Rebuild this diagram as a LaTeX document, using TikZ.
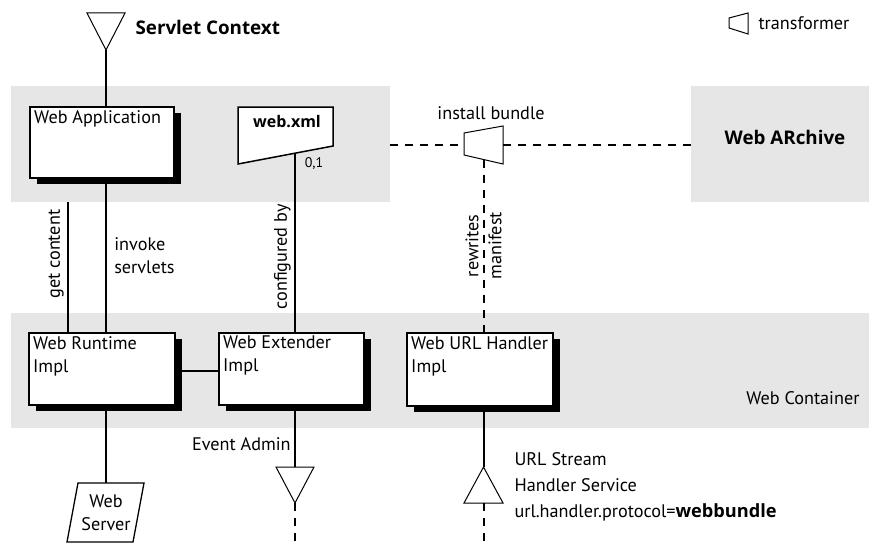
\documentclass[tikz,border=0pt]{standalone}
\usepackage{fontspec}
\setmainfont{PT Sans}
\newfontfamily\headfont{Open Sans}
\usetikzlibrary{shadows}
\definecolor{bandgray}{HTML}{E6E6E6}
\newcommand\hb[1]{{\headfont\bfseries #1}}
\tikzset{
  band/.style={fill=bandgray, draw=none, inner sep=0pt},
  comp/.style={draw, line width=2pt, fill=white, inner sep=0pt,
    general shadow={fill=black, shadow xshift=7pt, shadow yshift=-6pt}},
  boxlbl/.style={anchor=north west, align=left, inner xsep=5pt, inner ysep=4pt},
  wire/.style={line width=2pt},
  dashwire/.style={line width=2pt, dash pattern=on 8pt off 7pt},
  outline/.style={line width=1pt, fill=white}
}
\begin{document}
\begin{tikzpicture}[x=1pt, y=-1pt, font=\fontsize{18.2}{23}\selectfont]
  \useasboundingbox (0,0) rectangle (869,543);
  % grey areas
  \node[band, minimum width=379, minimum height=116] (appband) at (200.5,144) {};
  \node[band, minimum width=178, minimum height=116,
    label={[xshift=5pt, yshift=7pt, font=\fontsize{18.8}{22}\selectfont]center:\hb{Web ARchive}}] (archive) at (780,144) {};
  \node[band, minimum width=858, minimum height=115] (contband) at (440,370.5) {};
  \node[anchor=east] (contlbl) at (863,398) {Web Container};
  % legend
  \draw[outline] (729,18) -- (748,13) -- (748,34) -- (729,28) -- cycle;
  \node[anchor=west] (legend) at (755,23) {transformer};
  % bundles
  \node[comp, minimum width=144, minimum height=71,
    label={[boxlbl]north west:Web Application}] (webapp) at (102,142.5) {};
  \node[comp, minimum width=146, minimum height=72,
    label={[boxlbl]north west:Web Runtime\\Impl}] (runtime) at (102,369) {};
  \node[comp, minimum width=145, minimum height=72,
    label={[boxlbl]north west:Web Extender\\Impl}] (extender) at (291.5,369) {};
  \node[comp, minimum width=146, minimum height=73,
    label={[boxlbl]north west:Web URL Handler\\Impl}] (urlh) at (480,369.5) {};
  % web.xml
  \draw[line width=1.5pt, fill=white] (238,107) -- (333,107) -- (333,146) -- (238,164) -- cycle;
  \node[font=\fontsize{16}{19}\selectfont] (webxml) at (287,122) {\hb{web.xml}};
  \coordinate (webxmls) at (295,153);
  \node[font=\fontsize{14}{16}\selectfont] (card) at (314,164) {0,1};
  % servlet context
  \coordinate (sctx) at (106,50);
  \draw[outline] (sctx) -- ++(-19,-37) -- ++(38,0) -- cycle;
  \node[anchor=west, font=\fontsize{18.8}{22}\selectfont] (sctxlbl) at (132,27) {\hb{Servlet Context}};
  \draw[wire] (sctx) -- (webapp.north -| sctx);
  % transformer
  \coordinate (trans) at (483.5,145);
  \coordinate (transw) at (464,145);
  \coordinate (transe) at (503,145);
  \coordinate (transs) at (483.5,159.5);
  \draw[outline] (464,133) -- (503,126) -- (503,164) -- (464,155) -- cycle;
  \node (instlbl) at (491,113) {install bundle};
  \draw[dashwire] (appband.east |- trans) -- (transw);
  \draw[dashwire] (transe) -- (archive.west |- trans);
  \draw[dashwire] (transs) -- (urlh.north -| transs)
    node[midway, rotate=90, align=center] {rewrites\\manifest};
  % wiring
  \draw[wire] ([xshift=-34pt]runtime.north) -- ([xshift=-34pt]runtime.north |- appband.south)
    node[pos=0.6, rotate=90, anchor=south] {get content};
  \draw[wire] ([xshift=4pt]webapp.south) -- ([xshift=4pt]runtime.north)
    node[midway, right, align=left, xshift=4pt] {invoke\\servlets};
  \draw[wire] (webxmls) -- (extender.north -| webxmls)
    node[pos=0.58, rotate=90, anchor=south] {configured by};
  \draw[wire] ([yshift=-2pt]runtime.east) -- ([yshift=-2pt]runtime.east -| extender.west);
  % web server
  \draw[line width=1.3pt, fill=white] (67,542) -- (78,483) -- (144,483) -- (133,542) -- cycle;
  \node[align=center, minimum height=59, inner sep=0pt] (websrv) at (106,512.5) {Web\\Server};
  \draw[wire] ([xshift=4pt]runtime.south) -- (websrv.north);
  % event admin
  \coordinate (evadm) at (295,467);
  \coordinate (evadmtip) at (295,503);
  \coordinate (evadmend) at (295,543);
  \draw[wire] (extender.south -| evadm) -- (evadm)
    node[pos=0.62, left] {Event Admin};
  \draw[outline] (evadm) -- ++(-19,0) -- (evadmtip) -- ++(19,-36) -- cycle;
  \draw[dashwire] (evadmtip) -- (evadmend);
  % url stream handler
  \coordinate (urlsvc) at (483.5,467);
  \coordinate (urlsvcb) at (483.5,503);
  \coordinate (urlsvcend) at (483.5,543);
  \draw[wire] (urlh.south -| urlsvc) -- (urlsvc);
  \draw[outline] (urlsvc) -- ++(-19.5,36) -- ++(39,0) -- cycle;
  \draw[dashwire] (urlsvcb) -- (urlsvcend);
  \node[anchor=west, align=left, font=\fontsize{18.2}{26}\selectfont] (urllbl) at (511,487)
    {URL Stream\\Handler Service\\url.handler.protocol=\hb{webbundle}};
\end{tikzpicture}
\end{document}
